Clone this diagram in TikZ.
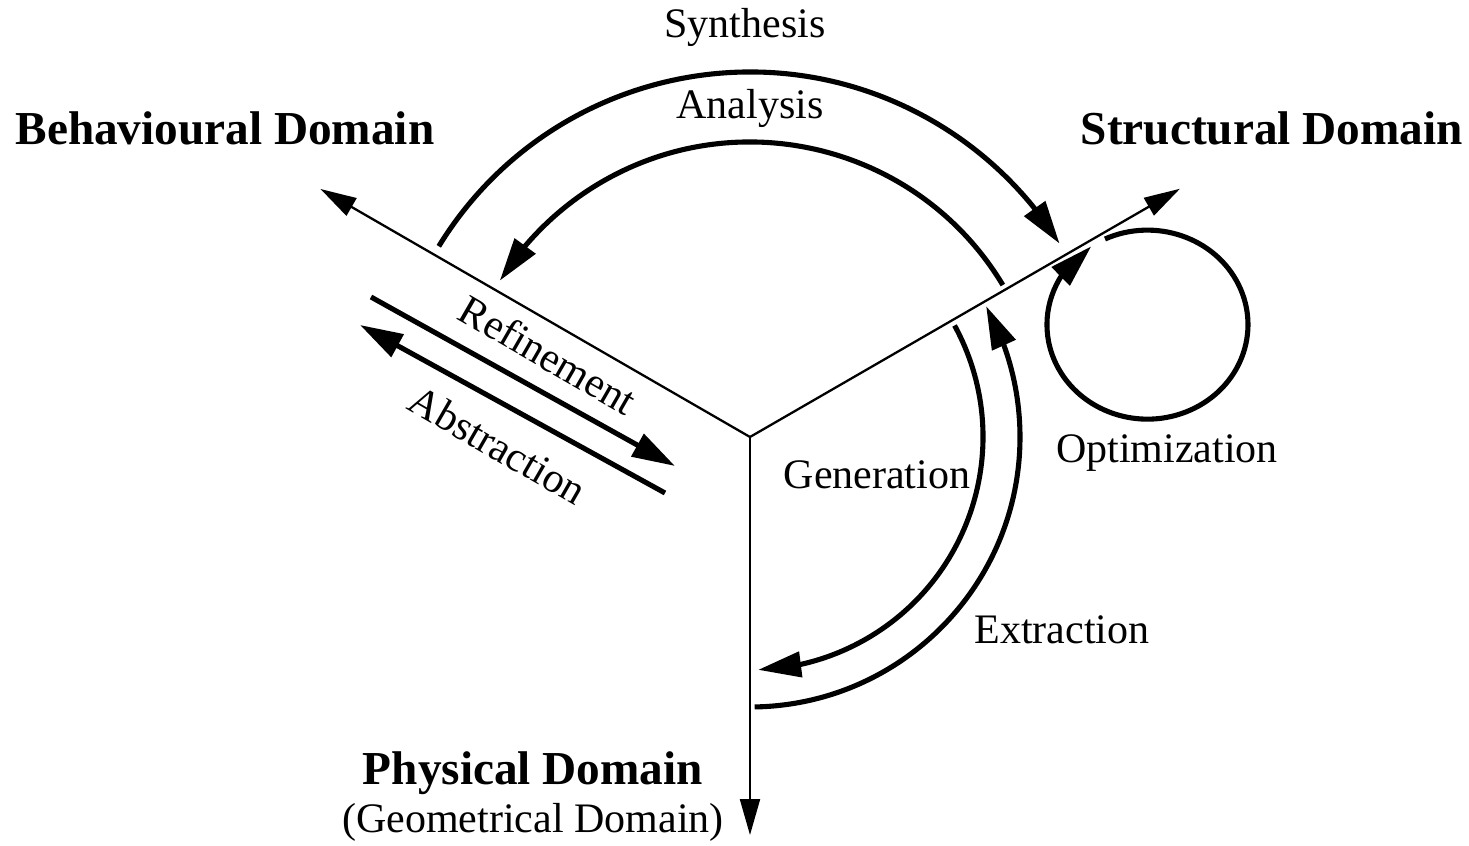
\documentclass[tikz,border=0pt]{standalone}
\usepackage{fontspec}
\setmainfont{Liberation Serif}
\usetikzlibrary{positioning, arrows.meta, bending}

\begin{document}
\begin{tikzpicture}
    [
        on grid,
        axis_line/.style={line width=1.3pt, color=black, -{Triangle[length=7.2mm, width=4mm]}},
        flow_line/.style={line width=2.9pt, color=black, -{Triangle[length=8.6mm, width=5mm]}},
        label_text/.style={inner sep=0pt, font=\fontsize{23.9}{28}\selectfont},
        domain_text/.style={inner sep=0pt, font=\fontsize{26.9}{31}\selectfont\bfseries},
    ]
        \useasboundingbox (-15,-8.18) rectangle (14.38,8.74) ;
        \coordinate (centre) at (0,0) ;
        \coordinate (beh_end) at (150:9.92) ;
        \coordinate (str_end) at (30:9.93) ;
        \coordinate (phy_end) at (270:7.96) ;
        \draw[axis_line] (centre) -- (beh_end) ;
        \draw[axis_line] (centre) -- (str_end) ;
        \draw[axis_line] (centre) -- (phy_end) ;
        \node[domain_text] (beh) at (-10.5,6.18) {Behavioural Domain} ;
        \node[domain_text] (str) at (10.44,6.18) {Structural Domain} ;
        \node[domain_text] (phy) at (-4.34,-6.72) {Physical Domain} ;
        \node[label_text] (geo) [below = 0.98 of phy] {(Geometrical Domain)} ;
        \coordinate (syn_start) at (148.5:7.3) ;
        \coordinate (ana_start) at (31:5.9) ;
        \coordinate (gen_start) at (28.6:4.66) ;
        \coordinate (ext_start) at (-89:5.4) ;
        \draw[flow_line] (syn_start) arc[start angle=148.5, end angle=32, radius=7.3] ;
        \draw[flow_line] (ana_start) arc[start angle=31, end angle=148, radius=5.9] ;
        \draw[flow_line] (gen_start) arc[start angle=28.6, end angle=-88, radius=4.66] ;
        \draw[flow_line] (ext_start) arc[start angle=-89, end angle=29, radius=5.4] ;
        \node[label_text] (syn) at (-0.1,8.2) {Synthesis} ;
        \node[label_text] (ana) at (0,6.58) {Analysis} ;
        \node[label_text] (gen) at (2.54,-0.76) {Generation} ;
        \node[label_text] (ext) at (6.24,-3.86) {Extraction} ;
        \coordinate (ref_start) at (-7.58,2.80) ;
        \coordinate (ref_end) at (-1.5,-0.58) ;
        \coordinate (abs_start) at (-1.7,-1.12) ;
        \coordinate (abs_end) at (-7.8,2.24) ;
        \draw[flow_line] (ref_start) -- (ref_end) ;
        \draw[flow_line] (abs_start) -- (abs_end) ;
        \node[label_text, rotate=-30] (ref) at (-4.04,1.64) {Refinement} ;
        \node[label_text, rotate=-30] (abs) at (-5.04,-0.16) {Abstraction} ;
        \coordinate (opt_centre) at (7.95,2.25) ;
        \coordinate (opt_start) at (7.10,3.96) ;
        \draw[flow_line] (opt_start) arc[start angle=115, end angle=-236, x radius=2.01, y radius=1.89] ;
        \node[label_text] (opt) at (8.34,-0.32) {Optimization} ;
    \end{tikzpicture}
\end{document}
